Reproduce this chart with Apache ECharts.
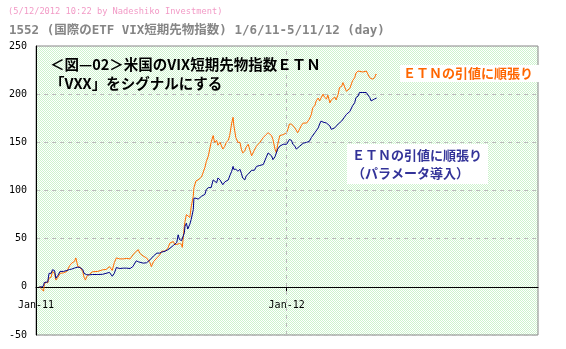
<!DOCTYPE html>
<html>
<head>
<meta charset="utf-8">
<script src="https://cdn.jsdelivr.net/npm/echarts@6/dist/echarts.min.js"></script>
<style>
  html, body { margin: 0; padding: 0; background: #ffffff; }
  #chart { width: 566px; height: 349px; }
</style>
</head>
<body>
<div id="chart"></div>
<script>
// Trading dates sampled along the back-test period (1/6/11 - 5/11/12)
const dates = [
  '2011-01-06','2011-01-09','2011-01-12','2011-01-13','2011-01-15','2011-01-18','2011-01-20','2011-01-23','2011-01-25','2011-01-28','2011-01-30',
  '2011-02-02','2011-02-05','2011-02-10','2011-02-15','2011-02-19','2011-02-22','2011-02-26','2011-02-28',
  '2011-03-03','2011-03-06','2011-03-10','2011-03-12','2011-03-14','2011-03-16','2011-03-20','2011-03-24',
  '2011-04-01','2011-04-08','2011-04-13','2011-04-18','2011-04-22','2011-04-25','2011-04-28','2011-04-30',
  '2011-05-03','2011-05-08','2011-05-13','2011-05-18','2011-05-20','2011-05-22','2011-05-27','2011-05-30',
  '2011-06-01','2011-06-06','2011-06-11','2011-06-13','2011-06-16','2011-06-18','2011-06-21','2011-06-23','2011-06-26','2011-06-30',
  '2011-07-03','2011-07-08','2011-07-12','2011-07-15','2011-07-17','2011-07-20','2011-07-22','2011-07-25','2011-07-27','2011-07-29',
  '2011-08-01','2011-08-02','2011-08-05','2011-08-06','2011-08-08','2011-08-10','2011-08-13','2011-08-15','2011-08-18','2011-08-19','2011-08-22','2011-08-25','2011-08-27','2011-08-30',
  '2011-09-01','2011-09-04','2011-09-06','2011-09-09','2011-09-11','2011-09-13','2011-09-16','2011-09-18','2011-09-21','2011-09-23','2011-09-26','2011-09-28','2011-09-30',
  '2011-10-03','2011-10-05','2011-10-08','2011-10-10','2011-10-13','2011-10-15','2011-10-16','2011-10-19','2011-10-22','2011-10-25','2011-10-27','2011-10-29',
  '2011-11-01','2011-11-03','2011-11-06','2011-11-08','2011-11-11','2011-11-13','2011-11-15','2011-11-18','2011-11-23','2011-11-28','2011-11-30',
  '2011-12-02','2011-12-05','2011-12-07','2011-12-10','2011-12-12','2011-12-15','2011-12-17','2011-12-19','2011-12-22','2011-12-27',
  '2012-01-01','2012-01-03','2012-01-05','2012-01-08','2012-01-10','2012-01-13','2012-01-15','2012-01-17','2012-01-20','2012-01-22','2012-01-25','2012-01-30',
  '2012-02-01','2012-02-03','2012-02-06','2012-02-08','2012-02-11','2012-02-13','2012-02-16','2012-02-18','2012-02-20','2012-02-23','2012-02-25','2012-02-28',
  '2012-03-01','2012-03-04','2012-03-06','2012-03-08','2012-03-11','2012-03-13','2012-03-16','2012-03-18','2012-03-21','2012-03-23','2012-03-25','2012-03-28','2012-03-30',
  '2012-04-02','2012-04-04','2012-04-06','2012-04-09','2012-04-11','2012-04-14','2012-04-16','2012-04-21','2012-04-26','2012-04-28',
  '2012-05-01','2012-05-03','2012-05-05','2012-05-08','2012-05-10','2012-05-11'
];

// Cumulative result: trend following on the ETN close
const trendClose = [
  0, -2, -4.5, 2, 5, 4, 9, 10, 16, 14, 7,
  10, 14, 14.5, 16, 22, 24.6, 26.4, 30,
  21, 20.5, 16, 10, 7, 11, 13, 15.6,
  16, 17.7, 18, 21, 17, 25, 30, 30,
  29, 29, 29.5, 29, 30.5, 33, 37, 38.5,
  35, 32, 30, 28, 25, 21, 26, 24, 30, 33,
  37, 37, 40, 45.5, 44, 47, 44, 44, 46, 45,
  44, 41, 63, 68, 75, 75, 72, 83, 94, 103, 110, 111, 113, 114,
  118, 124, 130, 136, 143, 150, 157, 150, 152, 147, 150, 152, 143,
  146, 150, 152, 157, 170, 176, 168, 155, 150, 150, 143, 139,
  141, 145, 148, 147, 136, 134, 142, 146, 150, 155, 157,
  158, 160, 160, 157, 153, 143, 139, 148, 157, 158,
  160, 164, 169, 169, 167, 165, 164, 160, 164, 167, 170, 170,
  172, 174, 179, 186, 188, 193, 196, 193, 196, 200, 197, 195,
  199, 191, 194, 196, 197, 194, 200, 207, 208, 212, 211, 203, 204,
  206, 208, 214, 217, 222, 224, 223, 223, 224, 223,
  217, 215.6, 215.6, 217, 220.8, 220
];

// Cumulative result: trend following on the ETN close, with parameters
const trendParam = [
  0, 0, 1, 4.5, 5, 5, 14, 14, 17.7, 17, 9,
  12, 16, 16, 17, 18, 18.4, 19.5, 20.5,
  20.5, 20, 18, 14, 12, 12.5, 12.5, 12.8,
  12.8, 13, 14, 15, 11, 14, 20, 18,
  19, 19.4, 19.4, 19, 18, 21, 27, 26,
  25, 24.6, 25, 26, 28, 30, 32, 34, 35, 35,
  36, 37, 38.5, 40, 42, 43, 44, 46, 54, 49,
  48, 49, 56, 63, 66, 60, 65, 70, 80, 92, 92, 91, 93, 94,
  95, 96, 101, 103, 101, 103, 111, 113, 108, 113, 111, 113, 106,
  109, 111, 111, 115, 120, 125, 122, 122, 120, 122, 118, 113,
  111, 115, 117, 118, 121, 120, 121, 125, 126, 127, 128,
  134, 139, 138, 136, 132, 135, 137, 143, 146, 148,
  148, 149, 153, 152, 148, 146, 143, 141, 146, 148, 149, 150,
  151, 151, 155, 157, 160, 161, 165, 169, 172, 171, 171, 170,
  171, 167, 163.5, 163.5, 165, 167, 169, 170, 172, 174, 176, 179, 181,
  182, 184, 188, 191, 196.5, 198, 201.7, 201.7, 201.7, 201.7,
  196.5, 193, 193, 195, 196.5, 196
];

const yTicks = { min: -50, max: 250, step: 50 };
const xRange = { start: '2011-01-01', end: '2013-01-01' };
const monthNames = ['Jan','Feb','Mar','Apr','May','Jun','Jul','Aug','Sep','Oct','Nov','Dec'];

const seriesNames = ['ＥＴＮの引値に順張り', 'ＥＴＮの引値に順張り（パラメータ導入）'];
const headerLines = [
  '(5/12/2012 10:22 by Nadeshiko Investment)',
  '1552 (国際のETF VIX短期先物指数) 1/6/11-5/11/12 (day)'
];
const noteLines = ['＜図—02＞米国のVIX短期先物指数ＥＴＮ', '「VXX」をシグナルにする'];
const paramNoteLines = ['ＥＴＮの引値に順張り', '（パラメータ導入）'];

// light green dotted fill for the plot area
const tile = document.createElement('canvas');
tile.width = 2; tile.height = 2;
const tctx = tile.getContext('2d');
tctx.fillStyle = '#ffffff'; tctx.fillRect(0, 0, 2, 2);
tctx.fillStyle = '#cdf3cd';
tctx.fillRect(0, 0, 1, 1); tctx.fillRect(1, 1, 1, 1);

const pair = (vals) => dates.map((d, i) => [d, vals[i]]);

const chart = echarts.init(document.getElementById('chart'), null, { renderer: 'canvas' });

const monoFont = '"DejaVu Sans Mono", monospace';
const cjkFont = '"Noto Sans CJK JP", sans-serif';

// plot box
const gridBox = { left: 36, right: 28, top: 46, bottom: 14 };
const plotHeight = 349 - gridBox.top - gridBox.bottom;
// date axis sits on the zero line
const zeroOffset = -Math.round(plotHeight * (0 - yTicks.min) / (yTicks.max - yTicks.min));

chart.setOption({
  animation: false,
  backgroundColor: '#ffffff',
  grid: {
    left: gridBox.left, right: gridBox.right, top: gridBox.top, bottom: gridBox.bottom,
    outerBoundsMode: 'none',
    containLabel: false,
    show: true,
    backgroundColor: { image: tile, repeat: 'repeat' },
    borderColor: '#888888', borderWidth: 1
  },
  xAxis: {
    type: 'time',
    position: 'bottom',
    offset: zeroOffset,
    min: xRange.start, max: xRange.end,
    minInterval: 182 * 86400000, maxInterval: 184 * 86400000,
    axisLine: { onZero: false, lineStyle: { color: '#000000', width: 1 } },
    axisTick: { show: true, length: 4, lineStyle: { color: '#000000' } },
    splitLine: { show: false },
    axisLabel: {
      color: '#000000', fontFamily: monoFont, fontSize: 10, margin: 13,
      showMinLabel: true, showMaxLabel: false, hideOverlap: false,
      formatter: function (v) {
        const d = new Date(v);
        if (d.getMonth() !== 0 || d.getFullYear() > 2012) return '';
        return monthNames[0] + '-' + String(d.getFullYear()).slice(2);
      }
    }
  },
  yAxis: {
    type: 'value',
    min: yTicks.min, max: yTicks.max, interval: yTicks.step,
    axisLine: { show: true, lineStyle: { color: '#000000', width: 1 } },
    axisTick: { show: false },
    axisLabel: { color: '#000000', fontFamily: monoFont, fontSize: 10, margin: 9 },
    splitLine: { show: true, lineStyle: { color: '#bbbbbb', type: [4, 4], width: 1 } }
  },
  series: [
    {
      name: seriesNames[0], type: 'line', data: pair(trendClose),
      showSymbol: false, symbol: 'none',
      lineStyle: { color: '#ff6a00', width: 1 },
      markLine: {
        silent: true, symbol: 'none', label: { show: false },
        lineStyle: { color: '#bbbbbb', type: [4, 4], width: 1 },
        data: [{ xAxis: '2012-01-01' }]
      },
      z: 2
    },
    {
      name: seriesNames[1], type: 'line', data: pair(trendParam),
      showSymbol: false, symbol: 'none',
      lineStyle: { color: '#000088', width: 1 },
      z: 3
    }
  ],
  graphic: [
    { type: 'text', left: 8, top: 7, z: 10,
      style: { text: headerLines[0], fill: '#f29ac6', font: '8.7px ' + monoFont } },
    { type: 'text', left: 9, top: 24, z: 10,
      style: { text: headerLines[1], fill: '#858585', font: 'bold 12.5px ' + monoFont + ', ' + cjkFont } },
    { type: 'text', left: 50, top: 55, z: 10,
      style: { text: noteLines[0] + '\n' + noteLines[1], fill: '#000000', lineHeight: 19,
               font: 'bold 14.5px ' + cjkFont } },
    { type: 'text', left: 400, top: 65, z: 10,
      style: { text: seriesNames[0], fill: '#ff6600', backgroundColor: '#ffffff',
               padding: [2, 8, 2, 3], font: 'bold 13px ' + cjkFont } },
    { type: 'text', left: 347, top: 144, z: 10,
      style: { text: paramNoteLines[0] + '\n' + paramNoteLines[1], fill: '#333399',
               backgroundColor: '#ffffff', lineHeight: 18, padding: [2, 6, 2, 5],
               font: 'bold 13px ' + cjkFont } }
  ]
});
</script>
</body>
</html>
